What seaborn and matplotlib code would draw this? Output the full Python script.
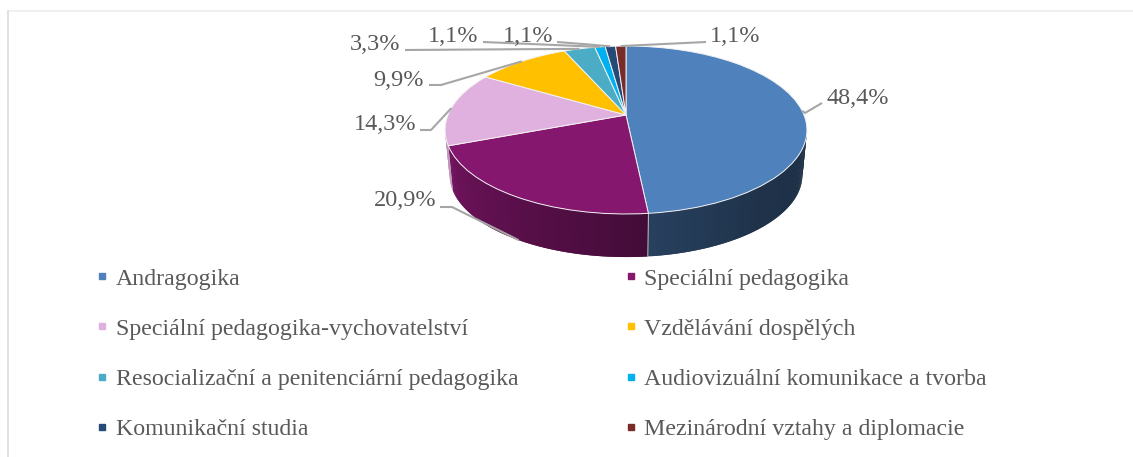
"""
Tilted pie of study programmes, drawn the way the office chart looks.
"""
import numpy as np
import matplotlib
matplotlib.use("Agg")
from matplotlib import pyplot as plt
from matplotlib.lines import Line2D
from matplotlib.transforms import Transform
import seaborn as sns

programmes = [
    "Andragogika",
    "Speciální pedagogika",
    "Speciální pedagogika-vychovatelství",
    "Vzdělávání dospělých",
    "Resocializační a penitenciární pedagogika",
    "Audiovizuální komunikace a tvorba",
    "Komunikační studia",
    "Mezinárodní vztahy a diplomacie",
]
shares = [48.4, 20.9, 14.3, 9.9, 3.3, 1.1, 1.1, 1.1]
slice_colors = ["#4F81BD", "#86176F", "#E0B0DE", "#FFC000", "#4BACC6", "#00B0F0", "#264A78", "#772C2A"]

# label position (pixels) and elbow of its leader line, per slice
label_xy = [(858, 99), (405, 201), (385, 124), (399, 80), (375, 45), (453, 37), (528, 37), (735, 37)]
line_start = [(822, 103), (440, 207), (420, 130), (429, 85), (405, 50), (483, 42), (557, 42), (706, 42)]
line_elbow = [(805, 113), (452, 207), (431, 130), (441, 85), (405, 50), (483, 42), (583, 44), (706, 42)]
on_lower_rim = [False, True, False, False, False, False, False, False]

TEXT_COLOR = "#595959"
LINE_COLOR = "#A6A6A6"


class TiltTransform(Transform):
    """Perspective view of the unit circle, output in image pixels."""
    input_dims = 2
    output_dims = 2

    def __init__(self, cx, cy, rx, ry, k):
        super().__init__()
        self.cx, self.cy, self.rx, self.ry, self.k = cx, cy, rx, ry, k

    def transform_non_affine(self, values):
        u, v = np.asarray(values, dtype=float).T
        den = 1 + self.k * v
        return np.column_stack([self.cx + self.rx * u / den, self.cy - self.ry * v / den])


def main():
    sns.set_theme(style="white")
    plt.rcParams["font.family"] = ["Liberation Serif", "DejaVu Serif"]
    palette = sns.color_palette(slice_colors)

    fig = plt.figure(figsize=(11.33, 4.57), dpi=100)
    ax = fig.add_axes([0, 0, 1, 1])

    wedges, _ = ax.pie(
        shares,
        colors=palette,
        startangle=90,
        counterclock=False,
        radius=1,
        wedgeprops={"linewidth": 0.7, "edgecolor": "#F2F2F2", "zorder": 3},
    )
    ax.set_aspect("auto")
    ax.set_xlim(0, 1133)
    ax.set_ylim(457, 0)

    top_rim = TiltTransform(626, 115, 178, 81.3, 0.1786)
    low_rim = TiltTransform(626, 160.5, 173.5, 79.3, 0.1786)
    for wedge in wedges:
        wedge.set_transform(top_rim + ax.transData)

    # side wall, overlapping strips with the shading running round the front
    for wedge, color in zip(wedges, palette):
        angles = np.arange(wedge.theta1, wedge.theta2, 0.75)
        for a0 in angles:
            a1 = min(a0 + 1.5, wedge.theta2)
            mid = (a0 + 0.375) % 360
            if not 188 < mid < 352:
                continue
            clockwise = (90 - mid) % 360
            shade = np.interp(clockwise, [90, 140, 174, 210, 250], [0.36, 0.39, 0.50, 0.66, 0.84])
            arc = np.radians(np.linspace(a0, a1, 3))
            unit = np.column_stack([np.cos(arc), np.sin(arc)])
            strip = np.vstack([top_rim.transform(unit), low_rim.transform(unit)[::-1]])
            strip_color = tuple(c * shade for c in color)
            ax.fill(strip[:, 0], strip[:, 1], color=strip_color, lw=0, zorder=2)

    # seam between the two big slices on the wall
    seam = np.radians(wedges[0].theta1)
    seam_unit = [[np.cos(seam), np.sin(seam)]]
    seam_xy = np.vstack([top_rim.transform(seam_unit), low_rim.transform(seam_unit)])
    ax.plot(seam_xy[:, 0], seam_xy[:, 1], color="#D9D9D9", lw=0.6, zorder=2.5)

    # leader lines end on the rim at the middle of each slice
    for i, wedge in enumerate(wedges):
        mid = np.radians((wedge.theta1 + wedge.theta2) / 2)
        rim = low_rim if on_lower_rim[i] else top_rim
        end = rim.transform([[np.cos(mid), np.sin(mid)]])[0]
        xs = [line_start[i][0], line_elbow[i][0], end[0]]
        ys = [line_start[i][1], line_elbow[i][1], end[1]]
        ax.plot(xs, ys, color=LINE_COLOR, lw=1.5, zorder=4, solid_capstyle="butt")
        ax.text(*label_xy[i], f"{shares[i]:.1f}%".replace(".", ","), color=TEXT_COLOR,
                fontsize=17.5, ha="center", va="center", zorder=5)

    # chart frame: only the top and left edges show in the picture
    ax.plot([8, 1133], [11, 11], color="#EDEDED", lw=1.2, zorder=1)
    ax.plot([8, 8], [11, 457], color="#DCDCDC", lw=1.2, zorder=1)

    handles = [
        Line2D([], [], ls="", marker="s", markersize=4.6, color=c, label=name)
        for name, c in zip(programmes, palette)
    ]
    order = handles[0::2] + handles[1::2]
    fig.legend(
        handles=order,
        ncol=2,
        loc="upper left",
        bbox_to_anchor=(0.0838, 0.4136),
        frameon=False,
        fontsize=17.2,
        labelcolor=TEXT_COLOR,
        handlelength=0.6,
        handletextpad=0.27,
        borderpad=0,
        borderaxespad=0,
        labelspacing=1.19,
        columnspacing=4.4,
    )

    ax.axis("off")
    fig.savefig("out.png", dpi=100)


if __name__ == "__main__":
    main()
